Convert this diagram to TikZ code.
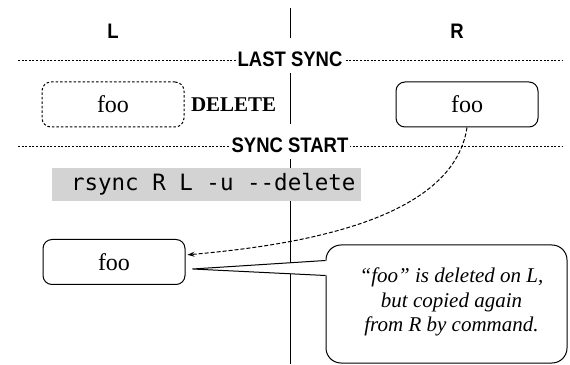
\documentclass[tikz,border=0pt]{standalone}
\usepackage{fontspec}
\setmainfont{Liberation Serif}
\newfontfamily\headfont[FakeStretch=0.88]{Liberation Sans}
\newfontfamily\cmdfont{DejaVu Sans Mono}
\usetikzlibrary{arrows.meta,positioning,calc}
\definecolor{cmdgray}{RGB}{211,211,211}

\begin{document}
\begin{tikzpicture}[
    x=1pt, y=1pt,
    filebox/.style={rectangle, draw, rounded corners=9pt, line width=1pt, minimum width=142pt, minimum height=45pt, font=\fontsize{24}{28}\selectfont},
    gonebox/.style={filebox, dash pattern=on 2.5pt off 2pt},
    sidelabel/.style={font=\headfont\bfseries\fontsize{21}{24}\selectfont},
    synclabel/.style={sidelabel, anchor=base, fill=white, inner xsep=2pt, inner ysep=0pt, text height=29pt, text depth=6pt},
    syncline/.style={line width=1pt, dash pattern=on 2pt off 1.6pt},
    note/.style={rectangle, draw, rounded corners=15pt, line width=1pt, minimum width=241pt, minimum height=118pt},
    notetext/.style={align=center, font=\itshape\fontsize{21}{24.5}\selectfont},
    arrow/.style={-{Stealth[length=7pt,width=5pt]}, line width=1pt, dash pattern=on 4pt off 2pt}
  ]
    \useasboundingbox (0,0) rectangle (570,364);

    % divider between the two sides
    \coordinate (divtop) at (290,356);
    \coordinate (divbot) at (290,0);
    \draw[line width=1pt] (divtop) -- (divbot);

    \node[sidelabel] (lside) at (113,332.5) {L};
    \node[sidelabel] (rside) at (457,332.5) {R};

    % sync marks
    \coordinate (lastl) at (18,303);
    \coordinate (lastr) at (562,303);
    \coordinate (startl) at (18,217);
    \coordinate (startr) at (562,217);
    \draw[syncline] (lastl) -- (lastr);
    \draw[syncline] (startl) -- (startr);
    \node[synclabel] (last) at (290,297) {LAST SYNC};
    \node[synclabel] (start) at (290,211) {SYNC START};

    \node[gonebox] (lold) at (113,259.5) {foo};
    \node[right=3pt of lold, font=\bfseries\fontsize{21}{24}\selectfont] (del) {DELETE};
    \node[filebox] (rfoo) at (467,259.5) {foo};

    \node[fill=cmdgray, inner xsep=5pt, minimum height=33pt, font=\cmdfont\fontsize{22.5}{26}\selectfont] (cmd) at (206.5,179.5) {\ rsync R L -u -{}-delete};

    \node[filebox] (lfoo) at (114,102) {foo};
    \draw[arrow, shorten >=2pt] (rfoo.south) .. controls +(-14,-93) and +(113,10) .. ([yshift=7pt]lfoo.east);

    % comment bubble
    \node[note] (note) at (446.5,60) {};
    \node[notetext] (notetext) at ([xshift=5pt,yshift=2pt]note.center) {“foo” is deleted on L,\\but copied again\\from R by command.};
    \coordinate (tip) at ($(lfoo.east)+(7,-7)$);
    \coordinate (beaktop) at ($(note.north west)+(0,-16)$);
    \coordinate (beakbot) at ($(note.north west)+(0,-31)$);
    \fill[white] (tip) -- ($(beaktop)+(1.5,0)$) -- ($(beakbot)+(1.5,0)$) -- cycle;
    \draw[line width=1pt, line join=bevel] (beaktop) -- (tip) -- (beakbot);
  \end{tikzpicture}
\end{document}
